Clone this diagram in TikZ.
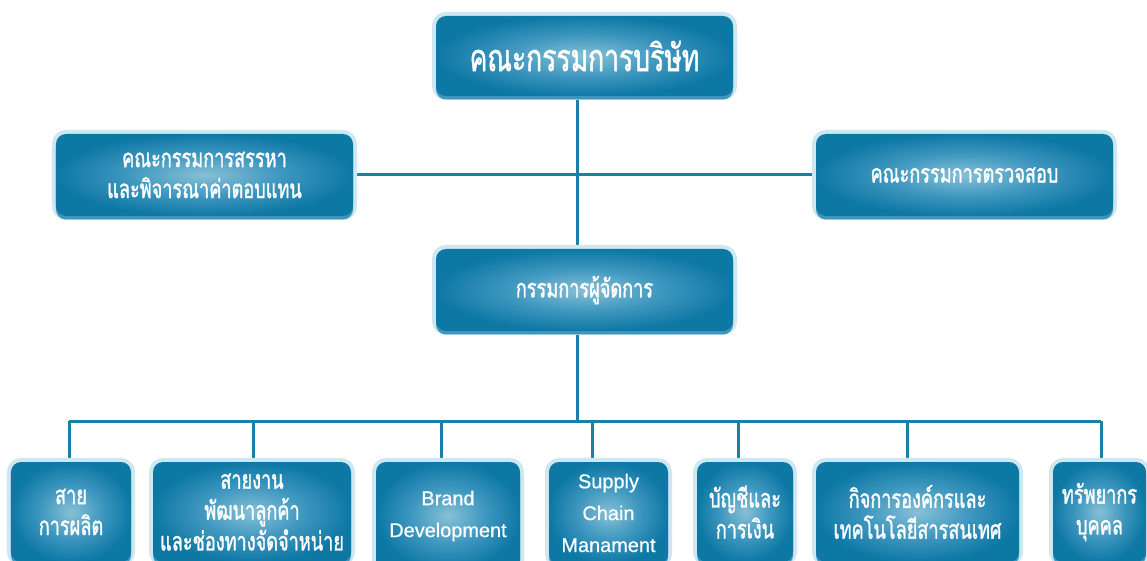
\documentclass[tikz,border=0pt]{standalone}
\usepackage{fontspec}
\setmainfont{Liberation Sans}[FakeBold=0.6]
\newfontfamily\thaifont[Script=Thai, FakeStretch=0.7, FakeBold=1.2]{Loma}
\usetikzlibrary{shadings}
\pgfdeclarelayer{background}
\pgfsetlayers{background,main}
\definecolor{linkblue}{HTML}{1A80A8}
\definecolor{boxdark}{HTML}{0E78A5}
\definecolor{boxmid}{HTML}{3E97BF}
\definecolor{boxlight}{HTML}{86C0D6}
\definecolor{rimlight}{HTML}{CFE7F0}
\definecolor{rimdark}{HTML}{3F95BB}
\pgfdeclareradialshading{boxglow}{\pgfpoint{0bp}{0bp}}{color(0bp)=(boxlight); color(13bp)=(boxmid); color(25bp)=(boxdark); color(50bp)=(boxdark)}
\begin{document}
\begin{tikzpicture}[x=1bp, y=-1bp,
  orgbox/.style={rectangle, rounded corners=10bp, shading=boxglow,
    text=white, align=center, inner sep=0pt,
    preaction={draw=rimlight, line width=8bp},
    preaction={fill=rimdark, transform canvas={yshift=-3.5bp}}},
  bigthai/.style={font=\thaifont\fontsize{38}{40}\selectfont},
  thai/.style={font=\thaifont\fontsize{26}{31}\selectfont},
  latin/.style={font=\fontsize{20}{32}\selectfont},
  link/.style={-, line width=3bp, draw=linkblue}]
\useasboundingbox (0,0) rectangle (1147,561);
\clip (0,0) rectangle (1147,561);
% boards
\node[orgbox, bigthai, minimum width=297bp, minimum height=80bp] (board) at (584.5,56) {คณะกรรมการบริษัท};
\node[orgbox, thai, minimum width=297bp, minimum height=82bp] (nomination) at (204.5,175) {คณะกรรมการสรรหา\\และพิจารณาค่าตอบแทน};
\node[orgbox, thai, minimum width=297bp, minimum height=82bp] (audit) at (964.5,175) {คณะกรรมการตรวจสอบ};
\node[orgbox, thai, minimum width=297bp, minimum height=82bp] (md) at (584.5,290) {กรรมการผู้จัดการ};
% departments
\node[orgbox, thai, minimum width=120bp, minimum height=100bp] (production) at (71,512) {สาย\\การผลิต};
\node[orgbox, thai, minimum width=198bp, minimum height=100bp] (custdev) at (252,512) {สายงาน\\พัฒนาลูกค้า\\และช่องทางจัดจำหน่าย};
\node[orgbox, latin, minimum width=144bp, minimum height=108bp] (brand) at (448,516) {Brand\\Development};
\node[orgbox, latin, minimum width=119bp, minimum height=102bp] (supply) at (608.5,513) {Supply\\Chain\\Manament};
\node[orgbox, thai, minimum width=96bp, minimum height=100bp] (finance) at (745,512) {บัญชีและ\\การเงิน};
\node[orgbox, thai, minimum width=203bp, minimum height=100bp] (corpit) at (917.5,512) {กิจการองค์กรและ\\เทคโนโลยีสารสนเทศ};
\node[orgbox, thai, minimum width=93bp, minimum height=100bp] (hr) at (1099.5,512) {ทรัพยากร\\บุคคล};
% connectors
\coordinate (spine) at (577,0);
\coordinate (busL) at (69,421);
\coordinate (busR) at (1101,421);
\begin{pgfonlayer}{background}
\path[link] (board.south -| spine) edge (md.north -| spine);
\path[link] (nomination.east) edge (audit.west);
\path[link] (md.south -| spine) edge (busL -| spine);
\path[link] (busL) edge (busR);
\foreach \x/\n in {69/production, 253/custdev, 441/brand, 592/supply, 738/finance, 907/corpit, 1101/hr}{
  \coordinate (tap-\n) at (\x,421);
  \path[link] (tap-\n) edge (tap-\n |- \n.north);
}
\end{pgfonlayer}
\end{tikzpicture}
\end{document}
